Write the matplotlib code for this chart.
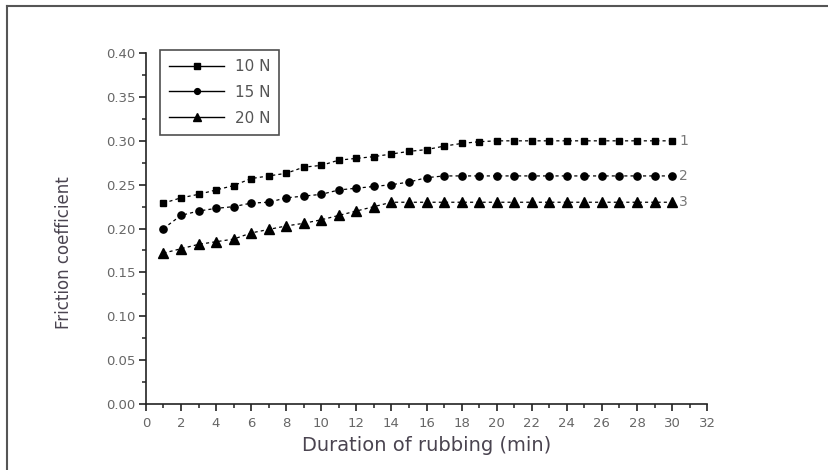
import numpy as np
import matplotlib
matplotlib.use("Agg")
import matplotlib.pyplot as plt
from matplotlib.lines import Line2D
from matplotlib.ticker import MultipleLocator, FormatStrFormatter

# rubbing time, min
t = np.arange(1, 31)

# friction coefficient at three normal loads
mu_10 = [0.229, 0.235, 0.239, 0.244, 0.249, 0.257, 0.260, 0.263, 0.270, 0.272,
         0.278, 0.280, 0.282, 0.285, 0.288, 0.290, 0.294, 0.297, 0.299, 0.300,
         0.300, 0.300, 0.300, 0.300, 0.300, 0.300, 0.300, 0.300, 0.300, 0.300]
mu_15 = [0.200, 0.215, 0.220, 0.223, 0.225, 0.229, 0.230, 0.235, 0.237, 0.239,
         0.244, 0.246, 0.248, 0.250, 0.253, 0.258, 0.260, 0.260, 0.260, 0.260,
         0.260, 0.260, 0.260, 0.260, 0.260, 0.260, 0.260, 0.260, 0.260, 0.260]
mu_20 = [0.172, 0.177, 0.182, 0.185, 0.188, 0.195, 0.199, 0.203, 0.206, 0.210,
         0.215, 0.220, 0.225, 0.230, 0.230, 0.230, 0.230, 0.230, 0.230, 0.230,
         0.230, 0.230, 0.230, 0.230, 0.230, 0.230, 0.230, 0.230, 0.230, 0.230]

labels = ['10 N', '15 N', '20 N']
curve_ids = ['1', '2', '3']

txt = '#4a4450'
fig = plt.figure(figsize=(8.29, 4.70), dpi=100)
ax = fig.add_axes([0.176, 0.1404, 0.677, 0.7466])

series = [(mu_10, 's', 4.8), (mu_15, 'o', 5.2), (mu_20, '^', 6.8)]
handles = []
for (mu, m, ms), lab, cid in zip(series, labels, curve_ids):
    ax.plot(t, mu, color='black', lw=0.9, ls=(0, (2.5, 2.5)),
            marker=m, ms=ms, mfc='black', mec='black')
    handles.append(Line2D([], [], color='black', lw=1.0, marker=m,
                          ms=ms * 0.8, mfc='black', label=lab))
    ax.text(t[-1] + 0.4, mu[-1], cid, color='#777777', fontsize=10,
            ha='left', va='center')

ax.set_xlim(0, 32)
ax.set_ylim(0, 0.40)
ax.xaxis.set_major_locator(MultipleLocator(2))
ax.xaxis.set_minor_locator(MultipleLocator(1))
ax.yaxis.set_major_locator(MultipleLocator(0.05))
ax.yaxis.set_minor_locator(MultipleLocator(0.025))
ax.yaxis.set_major_formatter(FormatStrFormatter('%.2f'))

for s in ['top', 'right']:
    ax.spines[s].set_visible(False)
for s in ['left', 'bottom']:
    ax.spines[s].set_linewidth(1.2)
    ax.spines[s].set_color('#222222')

ax.tick_params(which='major', direction='out', length=5, width=1.2,
               colors='#222222', labelcolor='#666666', labelsize=9.5)
ax.tick_params(which='minor', direction='out', length=3, width=1.1,
               colors='#222222')
ax.tick_params(axis='x', pad=4)
ax.tick_params(axis='y', pad=2.5)

ax.set_xlabel('Duration of rubbing (min)', fontsize=14, color=txt, labelpad=5)
ax.set_ylabel('Friction coefficient', fontsize=12, color=txt)
ax.yaxis.set_label_coords(-0.13, 0.43)

leg = ax.legend(handles=handles, loc='upper left', bbox_to_anchor=(0.025, 1.009),
                borderaxespad=0, frameon=True, fancybox=False, fontsize=11,
                handlelength=3.6, labelspacing=0.7, borderpad=0.6,
                handletextpad=0.7)
leg.get_frame().set_edgecolor('#222222')
leg.get_frame().set_linewidth(1.2)
for tx in leg.get_texts():
    tx.set_color('#555555')

# outer border on the left and top edges
fig.add_artist(Line2D([0.0085, 0.0085], [0.0, 0.987], transform=fig.transFigure,
                      color='#555555', lw=1.5))
fig.add_artist(Line2D([0.0085, 1.0], [0.987, 0.987], transform=fig.transFigure,
                      color='#555555', lw=1.5))

fig.savefig('out.png', dpi=100)
